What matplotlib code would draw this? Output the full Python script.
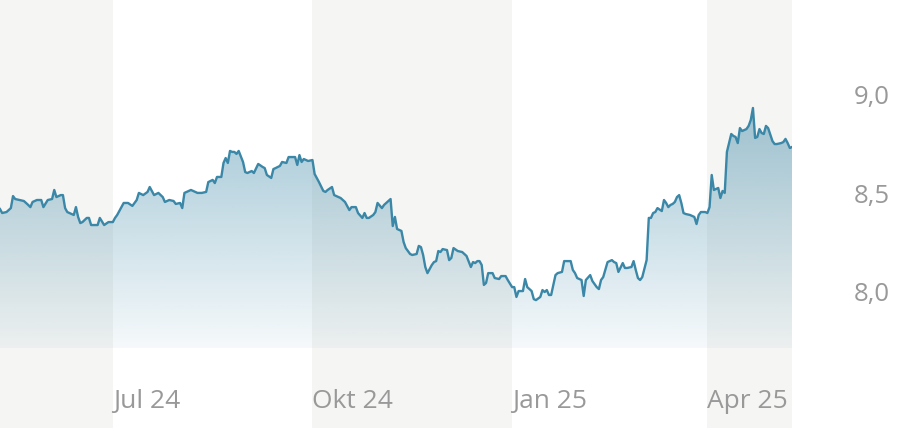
import pandas as pd
import matplotlib
matplotlib.use("Agg")
import matplotlib.pyplot as plt
import matplotlib.dates as mdates
import numpy as np

# price readings: day offset from start date, value
start = "2024-05-10"
days = [0, 1, 3, 5, 6, 7, 9, 11, 13, 14, 15, 17, 19, 20, 22, 24, 25, 26, 28, 29,
        30, 31, 34, 35, 36, 37, 38, 40, 41, 42, 45, 46, 48, 50, 52, 53, 54, 57, 59, 61,
        63, 64, 66, 68, 69, 71, 73, 75, 76, 78, 80, 81, 83, 84, 85, 86, 88, 90, 91, 93,
        95, 96, 98, 99, 100, 101, 102, 103, 104, 105, 106, 107, 108, 109, 110, 112, 113, 114, 116, 117,
        119, 121, 122, 123, 125, 126, 127, 129, 130, 132, 133, 135, 136, 137, 138, 139, 140, 142, 144, 145,
        147, 149, 150, 151, 153, 154, 155, 157, 159, 161, 162, 164, 165, 167, 168, 169, 170, 172, 173, 174,
        176, 177, 178, 180, 181, 182, 183, 185, 186, 187, 189, 190, 192, 193, 194, 195, 196, 197, 199, 200,
        201, 202, 203, 204, 206, 207, 208, 209, 211, 213, 215, 217, 218, 219, 220, 221, 222, 223, 224, 225,
        227, 228, 230, 231, 233, 234, 236, 237, 238, 239, 241, 242, 243, 245, 246, 247, 249, 250, 251, 252,
        253, 254, 256, 257, 259, 260, 261, 263, 264, 265, 266, 268, 269, 270, 272, 273, 275, 276, 277, 278,
        280, 282, 283, 284, 285, 287, 288, 289, 291, 292, 293, 294, 295, 296, 298, 299, 300, 301, 302, 303,
        305, 306, 307, 308, 309, 310, 311, 312, 313, 314, 315, 316, 318, 320, 321, 322, 323, 325, 326, 327,
        328, 329, 331, 332, 333, 334, 335, 337, 338, 339, 340, 341, 342, 344, 345, 346, 347, 348, 349, 350,
        351, 352, 353, 354, 356, 357, 358, 360, 361, 362, 363, 364, 365]
prices = [8.421, 8.401, 8.406, 8.426, 8.487, 8.472, 8.467, 8.462, 8.442, 8.431, 8.457, 8.467, 8.467, 8.431, 8.467, 8.472, 8.518, 8.482, 8.492, 8.492,
          8.426, 8.406, 8.391, 8.431, 8.381, 8.350, 8.355, 8.376, 8.376, 8.340, 8.340, 8.376, 8.340, 8.355, 8.355, 8.376, 8.391, 8.452, 8.452, 8.437,
          8.467, 8.503, 8.492, 8.508, 8.533, 8.492, 8.503, 8.482, 8.457, 8.467, 8.462, 8.447, 8.452, 8.426, 8.503, 8.508, 8.518, 8.508, 8.503, 8.503,
          8.508, 8.558, 8.569, 8.553, 8.584, 8.584, 8.584, 8.655, 8.680, 8.655, 8.716, 8.711, 8.711, 8.701, 8.716, 8.660, 8.609, 8.604, 8.614, 8.604,
          8.650, 8.635, 8.629, 8.594, 8.579, 8.624, 8.629, 8.640, 8.660, 8.655, 8.685, 8.685, 8.685, 8.645, 8.695, 8.660, 8.675, 8.665, 8.670, 8.599,
          8.558, 8.513, 8.508, 8.518, 8.533, 8.492, 8.487, 8.477, 8.457, 8.416, 8.431, 8.431, 8.401, 8.376, 8.401, 8.376, 8.376, 8.391, 8.406, 8.452,
          8.426, 8.442, 8.452, 8.472, 8.335, 8.381, 8.320, 8.310, 8.254, 8.223, 8.193, 8.188, 8.193, 8.234, 8.228, 8.188, 8.127, 8.096, 8.137, 8.152,
          8.157, 8.208, 8.203, 8.218, 8.213, 8.162, 8.173, 8.223, 8.208, 8.203, 8.183, 8.127, 8.152, 8.147, 8.157, 8.157, 8.137, 8.036, 8.046, 8.096,
          8.096, 8.071, 8.066, 8.081, 8.081, 8.061, 8.025, 8.025, 7.975, 8.005, 8.005, 8.066, 8.025, 8.005, 7.964, 7.959, 7.975, 8.010, 8.000, 8.010,
          7.985, 7.985, 8.086, 8.096, 8.102, 8.157, 8.157, 8.157, 8.112, 8.096, 8.071, 8.061, 7.980, 8.061, 8.086, 8.056, 8.025, 8.015, 8.061, 8.076,
          8.152, 8.162, 8.152, 8.147, 8.102, 8.147, 8.122, 8.122, 8.127, 8.157, 8.112, 8.071, 8.061, 8.076, 8.162, 8.376, 8.376, 8.401, 8.406, 8.426,
          8.411, 8.467, 8.452, 8.431, 8.442, 8.447, 8.457, 8.482, 8.492, 8.452, 8.401, 8.396, 8.391, 8.381, 8.345, 8.391, 8.406, 8.406, 8.401, 8.431,
          8.594, 8.518, 8.528, 8.477, 8.513, 8.503, 8.711, 8.802, 8.792, 8.787, 8.756, 8.832, 8.817, 8.827, 8.843, 8.873, 8.934, 8.782, 8.787, 8.827,
          8.807, 8.802, 8.843, 8.832, 8.766, 8.751, 8.751, 8.756, 8.761, 8.777, 8.756, 8.731, 8.736]

tick_dates = ["2024-07-01", "2024-10-01", "2025-01-01", "2025-04-01"]
tick_labels = ["Jul 24", "Okt 24", "Jan 25", "Apr 25"]
y_ticks = [8.0, 8.5, 9.0]
y_labels = ["8,0", "8,5", "9,0"]

line_col = "#3a87a7"
band_col = "#f5f5f3"
text_col = "#999999"

dates = pd.to_datetime(start) + pd.to_timedelta(days, unit="D")
x = mdates.date2num(dates)
p = np.array(prices)

fig = plt.figure(figsize=(9.02, 4.28), dpi=100)
ax = fig.add_axes([0, 0, 792 / 902, 1])
x0 = mdates.date2num(pd.to_datetime(start))
x1 = x0 + 365
ax.set_xlim(x0, x1)
ax.set_ylim(7.310, 9.482)
ax.axis("off")

# alternating quarter bands
edges = [x0] + [mdates.date2num(pd.to_datetime(d)) for d in tick_dates] + [x1]
for i in range(len(edges) - 1):
    if i % 2 == 0:
        ax.axvspan(edges[i], edges[i + 1], color=band_col, lw=0, zorder=0)

# gradient area under the line
base = 7.716
poly = ax.fill_between(x, p, base, facecolor="none", edgecolor="none")
top = p.max()
grad = np.zeros((256, 1, 4))
rgb = matplotlib.colors.to_rgb(line_col)
grad[:, 0, 0] = rgb[0]
grad[:, 0, 1] = rgb[1]
grad[:, 0, 2] = rgb[2]
grad[:, 0, 3] = np.linspace(0.47, 0.05, 256)
im = ax.imshow(grad, extent=[x0, x1, base, top], origin="upper", aspect="auto", zorder=1)
im.set_clip_path(poly.get_paths()[0], transform=ax.transData)

ax.plot(x, p, color=line_col, lw=1.7, zorder=2)

for d, lab in zip(tick_dates, tick_labels):
    ax.text(mdates.date2num(pd.to_datetime(d)), 1 - 408 / 428, lab,
            transform=ax.get_xaxis_transform(), ha="left", va="baseline",
            fontsize=19, color=text_col, family="Open Sans")

for v, lab in zip(y_ticks, y_labels):
    ax.text(890 / 792, v - 0.046, lab, transform=ax.get_yaxis_transform(),
            ha="right", va="baseline", fontsize=18.5, color=text_col,
            family="Open Sans", clip_on=False)

fig.savefig("out.png", dpi=100)
